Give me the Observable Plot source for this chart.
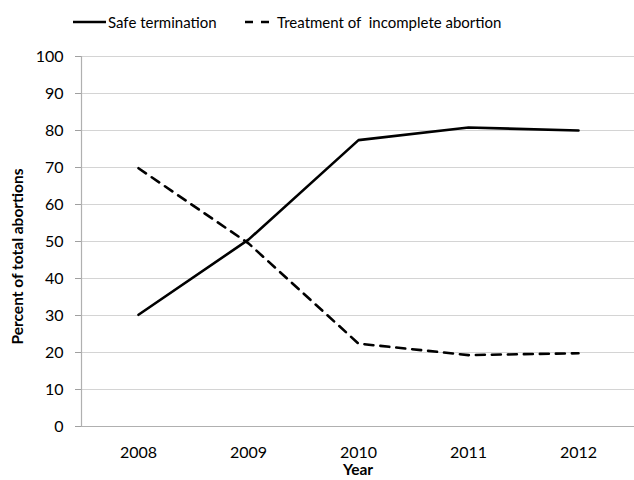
<!DOCTYPE html>
<html>
<head>
<meta charset="utf-8">
<script src="https://cdn.jsdelivr.net/npm/d3@7"></script>
<script src="https://cdn.jsdelivr.net/npm/@observablehq/plot@0.6"></script>
<style>
  html, body { margin: 0; padding: 0; background: #fff; }
  body { width: 634px; height: 480px; overflow: hidden; font-family: Lato, "Open Sans", sans-serif; }
  #legend { position: relative; height: 40px; font-size: 15px; color: #000; }
  .item { position: absolute; top: 13px; display: flex; align-items: center; }
  .item svg { margin-right: 2px; }
</style>
</head>
<body>
<div id="legend">
  <div class="item" style="left:73px"><svg width="33" height="10"><line x1="0" x2="33" y1="5" y2="5" stroke="#000" stroke-width="2.6"/></svg><span>Safe termination</span></div>
  <div class="item" style="left:245px"><svg width="30" height="10"><line x1="0" x2="24" y1="5" y2="5" stroke="#000" stroke-width="2.6" stroke-dasharray="8,8"/></svg><span>Treatment of &nbsp;incomplete abortion</span></div>
</div>
<div id="chart"></div>
<script>
const years = ["2008", "2009", "2010", "2011", "2012"];
const safeTermination = [30.2, 50.5, 77.4, 80.8, 80.0];
const incompleteTreatment = [69.8, 49.5, 22.4, 19.3, 19.8];
const yTicks = [0, 10, 20, 30, 40, 50, 60, 70, 80, 90, 100];

const safeData = years.map((y, i) => ({year: y, value: safeTermination[i]}));
const incData = years.map((y, i) => ({year: y, value: incompleteTreatment[i]}));

const chart = Plot.plot({
  width: 634,
  height: 440,
  marginLeft: 81,
  marginRight: 0,
  marginTop: 16,
  marginBottom: 54,
  style: { fontFamily: "Lato, 'Open Sans', sans-serif", fontSize: "16px", color: "#000", background: "#fff" },
  x: { type: "point", domain: years, padding: 0.5, label: null },
  y: { domain: [0, 100], ticks: yTicks, label: null },
  marks: [
    Plot.gridY(yTicks, { stroke: "#d4d4d4", strokeOpacity: 1, strokeWidth: 1.2 }),
    Plot.axisY(yTicks, { tickSize: 6, tickPadding: 12, stroke: "#a0a0a0", fontSize: 16, label: null }),
    Plot.axisX(years, { tickSize: 0, tickPadding: 20, fontSize: 16, label: null }),
    Plot.ruleY([0], { stroke: "#b0b0b0", strokeWidth: 1.2 }),
    Plot.frame({ anchor: "left", stroke: "#b0b0b0", strokeWidth: 1.2 }),
    Plot.line(safeData, { x: "year", y: "value", stroke: "#000", strokeWidth: 2.6 }),
    Plot.line(incData, { x: "year", y: "value", stroke: "#000", strokeWidth: 2.6, strokeDasharray: "9,7" }),
    Plot.text(["Year"], { frameAnchor: "bottom", dy: 48, fontWeight: "bold", fontSize: 15.5 }),
    Plot.text(["Percent of total abortions"], { frameAnchor: "left", textAnchor: "middle", dx: -63, dy: 15, rotate: -90, fontWeight: "bold", fontSize: 15.5 })
  ]
});
document.getElementById("chart").appendChild(chart);
</script>
</body>
</html>
